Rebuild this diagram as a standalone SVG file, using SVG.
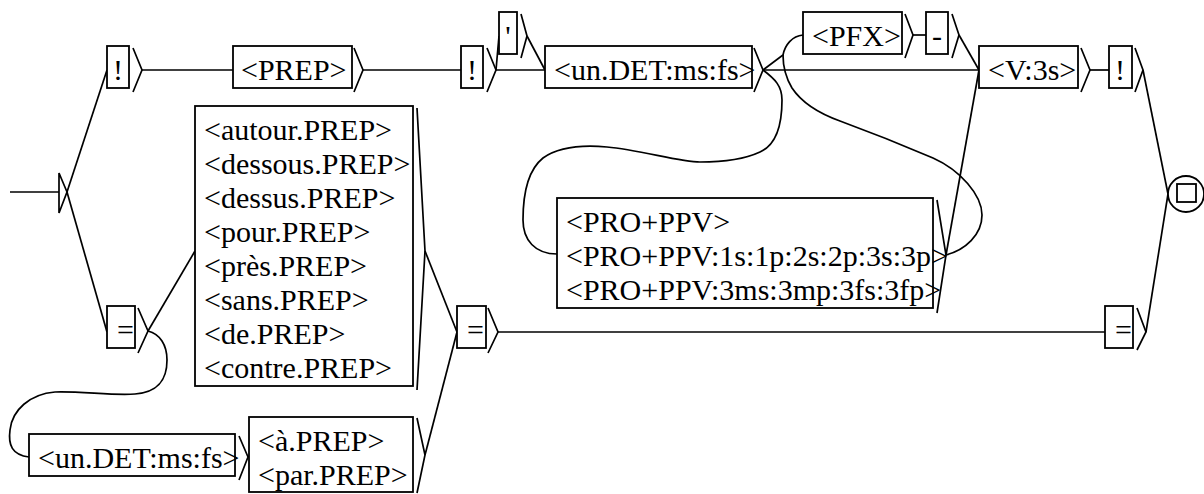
<svg xmlns="http://www.w3.org/2000/svg" width="1204" height="494" viewBox="0 0 1204 494">
  <style>
    .box { fill: #fff; stroke: #000; stroke-width: 1.8; }
    .out { fill: none; stroke: #000; stroke-width: 1.7; stroke-linejoin: miter; }
    .edge { fill: none; stroke: #000; stroke-width: 1.7; }
    text { font-family: 'Liberation Serif', 'Times New Roman', serif; font-size: 30px; fill: #000; }
    .c { text-anchor: middle; }
  </style>
  <rect x="0" y="0" width="1204" height="494" fill="#fff"/>

  <!-- transitions -->
  <g id="connectors">
    <path class="edge" d="M67,192 L107,70"/>
    <path class="edge" d="M67,192 L107,332"/>
    <path class="edge" d="M142,70 L233,70"/>
    <path class="edge" d="M363,70 L461,70"/>
    <path class="edge" d="M496,70 L499,36"/>
    <path class="edge" d="M496,70 L545,70"/>
    <path class="edge" d="M527,36 L545,70"/>
    <path class="edge" d="M763,70 L979,70"/>
    <path class="edge" d="M763,70 L783,55 C785,45 792,36 803,35"/>
    <path class="edge" d="M913,35 L926,35"/>
    <path class="edge" d="M959,35 L979,70"/>
    <path class="edge" d="M1090,70 L1109,70"/>
    <path class="edge" d="M1143,70 L1168,194"/>
    <path class="edge" d="M1146,332 L1168,194"/>
    <path class="edge" d="M148,331 L195,251"/>
    <path class="edge" d="M148,331 C160,334 167,345 167,360 C167,378 160,392 135,394 C115,396 80,391 55,392 C30,394 12,410 10,430 C8,445 12,455 29,457"/>
    <path class="edge" d="M248,457 L249,456"/>
    <path class="edge" d="M425,251 L457,332"/>
    <path class="edge" d="M425,455 L457,332"/>
    <path class="edge" d="M498,332 L1105,332"/>
    <path class="edge" d="M763,70 C775,79 782,86 782,100 C782,125 776,145 760,152 C745,159 725,162 700,162 C680,162 640,150 607,147 C585,145 560,146 543,158 C528,170 523,195 523,220 C523,240 535,254 557,254"/>
    <path class="edge" d="M946,255 L979,70"/>
    <path class="edge" d="M946,255 C965,250 982,235 982,215 C982,195 960,170 933,158 C905,146 870,132 840,121 C815,112 800,100 792,88 C786,78 783,65 783,55"/>
  </g>

  <!-- initial state -->
  <g id="initial">
    <path class="edge" d="M10,192 L59,192"/>
    <path class="out" d="M59,173 L59,213 L67,192 Z"/>
  </g>

  <g id="n_bang1">
    <rect class="box" x="107" y="46" width="22" height="42"/>
    <text class="c" x="118" y="80">!</text>
    <path class="out" d="M133,48 L142,70 L133,92"/>
  </g>

  <g id="n_prep">
    <rect class="box" x="233" y="46" width="119" height="42"/>
    <text x="241" y="80">&lt;PREP&gt;</text>
    <path class="out" d="M354,48 L363,70 L354,92"/>
  </g>

  <g id="n_bang2">
    <rect class="box" x="461" y="46" width="22" height="42"/>
    <text class="c" x="472" y="80">!</text>
    <path class="out" d="M487,48 L496,70 L487,92"/>
  </g>

  <g id="n_apos">
    <rect class="box" x="499" y="12" width="18" height="42"/>
    <text class="c" x="508" y="46">'</text>
    <path class="out" d="M521,14 L527,36 L521,58"/>
  </g>

  <g id="n_undet">
    <rect class="box" x="545" y="46" width="207" height="42"/>
    <text x="554" y="80">&lt;un.DET:ms:fs&gt;</text>
    <path class="out" d="M754,48 L763,70 L754,92"/>
  </g>

  <g id="n_pfx">
    <rect class="box" x="803" y="12" width="99" height="42"/>
    <text x="812" y="46">&lt;PFX&gt;</text>
    <path class="out" d="M905,14 L913,35 L905,58"/>
  </g>

  <g id="n_dash">
    <rect class="box" x="926" y="12" width="22" height="42"/>
    <text class="c" x="937" y="46">-</text>
    <path class="out" d="M952,14 L959,35 L952,58"/>
  </g>

  <g id="n_v3s">
    <rect class="box" x="979" y="46" width="99" height="42"/>
    <text x="988" y="80">&lt;V:3s&gt;</text>
    <path class="out" d="M1081,48 L1090,70 L1081,92"/>
  </g>

  <g id="n_bang3">
    <rect class="box" x="1109" y="46" width="23" height="42"/>
    <text class="c" x="1120" y="80">!</text>
    <path class="out" d="M1135,48 L1143,70 L1135,92"/>
  </g>

  <g id="n_eq_left">
    <rect class="box" x="107" y="306" width="28" height="42"/>
    <text x="117" y="340">=</text>
    <path class="out" d="M138,308 L148,331 L138,353"/>
  </g>

  <g id="n_preps">
    <rect class="box" x="195" y="106" width="218" height="280"/>
    <text x="204" y="140">&lt;autour.PREP&gt;</text>
    <text x="204" y="174">&lt;dessous.PREP&gt;</text>
    <text x="204" y="208">&lt;dessus.PREP&gt;</text>
    <text x="204" y="242">&lt;pour.PREP&gt;</text>
    <text x="204" y="276">&lt;près.PREP&gt;</text>
    <text x="204" y="310">&lt;sans.PREP&gt;</text>
    <text x="204" y="344">&lt;de.PREP&gt;</text>
    <text x="204" y="378">&lt;contre.PREP&gt;</text>
    <path class="out" d="M417,108 L425,251 L417,390"/>
  </g>

  <g id="n_undet2">
    <rect class="box" x="29" y="434" width="206" height="42"/>
    <text x="38" y="468">&lt;un.DET:ms:fs&gt;</text>
    <path class="out" d="M239,436 L248,457 L239,480"/>
  </g>

  <g id="n_apar">
    <rect class="box" x="249" y="417" width="164" height="75"/>
    <text x="258" y="451">&lt;à.PREP&gt;</text>
    <text x="258" y="485">&lt;par.PREP&gt;</text>
    <path class="out" d="M417,418 L425,455 L417,493"/>
  </g>

  <g id="n_eq_mid">
    <rect class="box" x="457" y="306" width="29" height="42"/>
    <text x="467" y="340">=</text>
    <path class="out" d="M488,308 L498,332 L488,353"/>
  </g>

  <g id="n_pro">
    <rect class="box" x="557" y="198" width="376" height="110"/>
    <text x="566" y="232">&lt;PRO+PPV&gt;</text>
    <text x="566" y="266">&lt;PRO+PPV:1s:1p:2s:2p:3s:3p&gt;</text>
    <text x="566" y="300">&lt;PRO+PPV:3ms:3mp:3fs:3fp&gt;</text>
    <path class="out" d="M937,200 L946,255 L937,313"/>
  </g>

  <g id="n_eq_right">
    <rect class="box" x="1105" y="306" width="28" height="42"/>
    <text x="1115" y="340">=</text>
    <path class="out" d="M1137,308 L1146,332 L1137,350"/>
  </g>

  <!-- final state -->
  <g id="final">
    <circle cx="1186" cy="194" r="18" fill="#fff" stroke="#000" stroke-width="1.8"/>
    <rect x="1177" y="184" width="19" height="18" fill="none" stroke="#000" stroke-width="1.8"/>
  </g>
</svg>
